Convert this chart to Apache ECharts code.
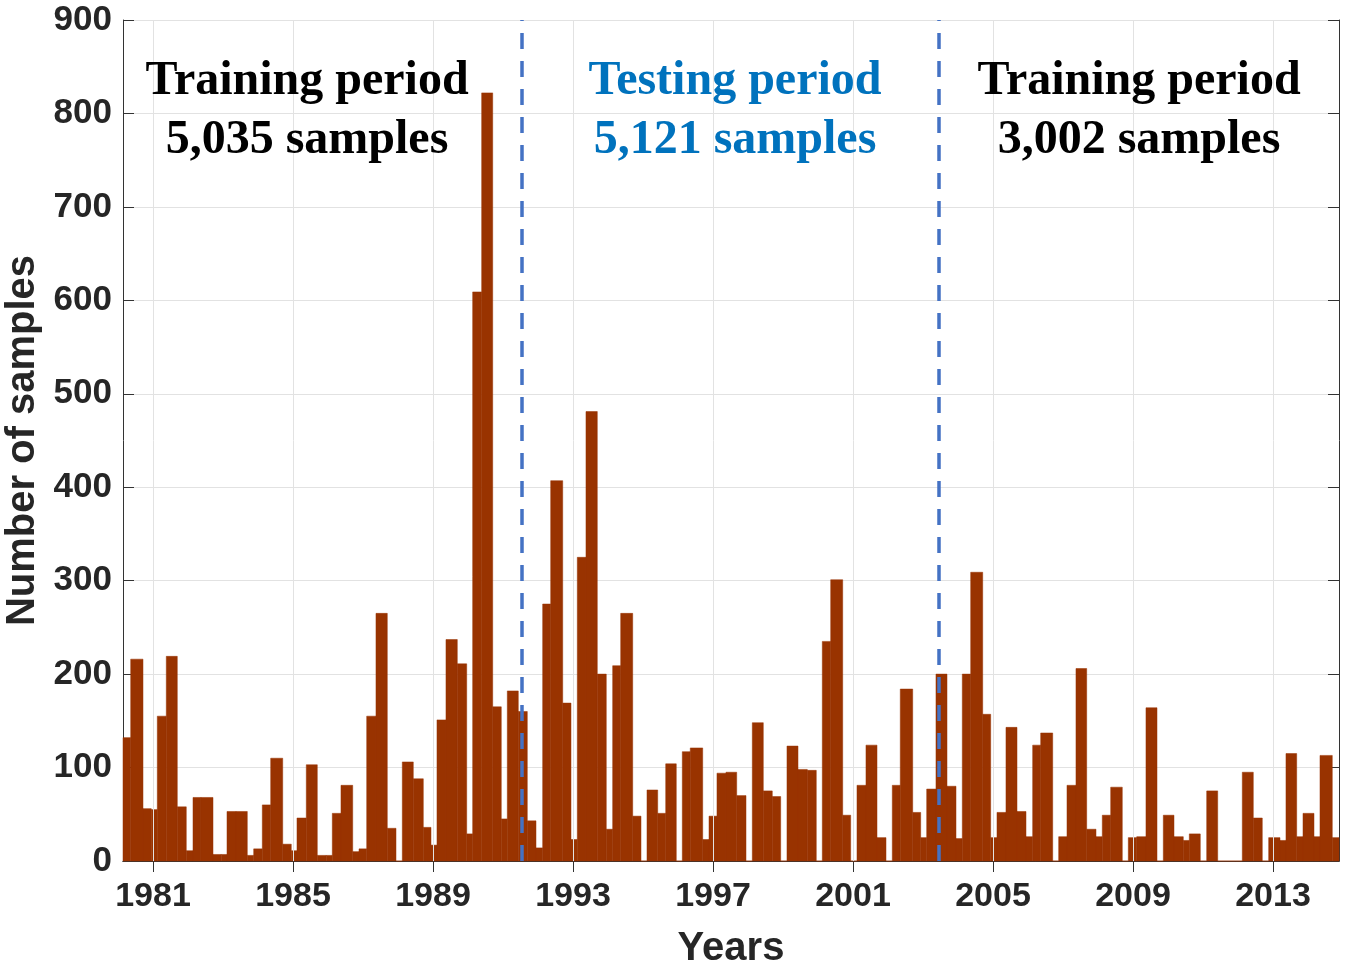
<!DOCTYPE html>
<html>
<head>
<meta charset="utf-8">
<script src="https://cdn.jsdelivr.net/npm/echarts@6/dist/echarts.min.js"></script>
<style>
html,body{margin:0;padding:0;background:#ffffff;}
#chart{width:1351px;height:975px;}
</style>
</head>
<body>
<div id="chart"></div>
<script>
// Bin edges (decimal years) of each bar; bar i spans binEdges[i] .. binEdges[i+1]
const binEdges = [
  1980.12, 1980.363, 1980.714, 1980.951, 1981.123, 1981.38, 1981.694, 1981.951, 1982.143, 1982.37,
  1982.714, 1982.95, 1983.114, 1983.371, 1983.694, 1983.877, 1984.123, 1984.363, 1984.706, 1984.951,
  1985.114, 1985.38, 1985.694, 1985.951, 1986.123, 1986.371, 1986.706, 1986.886, 1987.106, 1987.371,
  1987.694, 1987.943, 1988.123, 1988.437, 1988.723, 1988.943, 1989.114, 1989.371, 1989.694, 1989.963,
  1990.134, 1990.391, 1990.706, 1990.951, 1991.123, 1991.437, 1991.694, 1991.943, 1992.134, 1992.363,
  1992.706, 1992.943, 1993.123, 1993.371, 1993.694, 1993.951, 1994.134, 1994.363, 1994.706, 1994.943,
  1995.114, 1995.42, 1995.649, 1995.951, 1996.123, 1996.351, 1996.706, 1996.886, 1997.114, 1997.371,
  1997.677, 1997.943, 1998.123, 1998.437, 1998.694, 1998.934, 1999.114, 1999.429, 1999.694, 1999.951,
  2000.123, 2000.363, 2000.706, 2000.934, 2001.114, 2001.371, 2001.686, 2001.943, 2002.123, 2002.351,
  2002.706, 2002.934, 2003.106, 2003.371, 2003.686, 2003.943, 2004.123, 2004.363, 2004.706, 2004.934,
  2005.114, 2005.371, 2005.686, 2005.943, 2006.134, 2006.363, 2006.706, 2006.877, 2007.114, 2007.371,
  2007.677, 2007.943, 2008.123, 2008.363, 2008.694, 2008.866, 2009.106, 2009.371, 2009.686, 2009.866,
  2010.171, 2010.437, 2010.609, 2010.923, 2011.106, 2011.42, 2011.686, 2011.943, 2012.123, 2012.437,
  2012.694, 2012.877, 2013.2, 2013.371, 2013.677, 2013.857, 2014.171, 2014.343, 2014.694, 2014.95
];

// Number of samples in each bin
const counts = [
  132, 216, 56, 55, 155, 219, 58, 11, 68, 68,
  7, 7, 53, 53, 6, 13, 60, 110, 18, 11,
  46, 103, 6, 6, 51, 81, 10, 13, 155, 265,
  35, 0, 106, 88, 36, 17, 151, 237, 211, 29,
  609, 822, 165, 45, 182, 160, 43, 14, 275, 407,
  169, 23, 325, 481, 200, 34, 209, 265, 48, 0,
  76, 51, 104, 0, 117, 121, 23, 48, 94, 95,
  70, 0, 148, 75, 69, 0, 123, 98, 97, 0,
  235, 301, 49, 0, 81, 124, 25, 0, 81, 184,
  52, 25, 77, 200, 80, 24, 200, 309, 157, 25,
  52, 143, 53, 26, 124, 137, 0, 26, 81, 206,
  34, 26, 49, 79, 0, 25, 26, 164, 0, 49,
  26, 22, 29, 0, 75, 0, 0, 0, 95, 46,
  0, 25, 22, 115, 26, 51, 26, 113, 25
];

const yearTicks = [1981, 1985, 1989, 1993, 1997, 2001, 2005, 2009, 2013];
const xRange = [1980.143, 2014.886];
const yRange = [0, 900];
const yStep = 100;
const periodBounds = [1991.543, 2003.457];

const periodTitles = ['Training period', 'Testing period', 'Training period'];
const periodSamples = ['5,035 samples', '5,121 samples', '3,002 samples'];
const periodColors = ['#000000', '#0072BD', '#000000'];
const periodCenterX = [307, 735, 1139];

const barColor = '#993300';
const axisColor = '#333333';
const labelColor = '#262626';
const gridColor = '#e2e2e2';

const chart = echarts.init(document.getElementById('chart'), null, {renderer: 'canvas'});

const barData = counts.map((c, i) => [binEdges[i], binEdges[i + 1], c]);

const tickFont = {fontFamily: 'Liberation Sans', fontWeight: 'bold', fontSize: 34, color: labelColor};
const titleFont = {fontFamily: 'Liberation Sans', fontWeight: 'bold', fontSize: 40, color: labelColor};

const graphicTexts = [];
for (let i = 0; i < periodTitles.length; i++) {
  graphicTexts.push({
    type: 'text', z: 100,
    style: {text: periodTitles[i], x: periodCenterX[i], y: 82, align: 'center', verticalAlign: 'middle',
      font: 'bold 48px "Liberation Serif"', fill: periodColors[i]}
  });
  graphicTexts.push({
    type: 'text', z: 100,
    style: {text: periodSamples[i], x: periodCenterX[i], y: 141, align: 'center', verticalAlign: 'middle',
      font: 'bold 48px "Liberation Serif"', fill: periodColors[i]}
  });
}

const option = {
  backgroundColor: '#ffffff',
  animation: false,
  grid: {left: 123, right: 12, top: 20, bottom: 114, containLabel: false, outerBoundsMode: 'none'},
  xAxis: [
    {
      type: 'value', position: 'bottom', min: xRange[0], max: xRange[1],
      name: 'Years', nameLocation: 'middle', nameGap: 68,
      nameTextStyle: titleFont,
      axisLine: {show: true, lineStyle: {color: axisColor, width: 1}},
      axisTick: {show: true, inside: true, length: 11, customValues: yearTicks, lineStyle: {color: axisColor}},
      axisLabel: Object.assign({show: true, margin: 19, customValues: yearTicks,
        formatter: v => String(Math.round(v))}, tickFont),
      splitLine: {show: false}
    },
    {
      type: 'value', position: 'top', min: xRange[0], max: xRange[1],
      axisLine: {show: true, lineStyle: {color: axisColor, width: 1}},
      axisTick: {show: true, inside: true, length: 11, customValues: yearTicks, lineStyle: {color: axisColor}},
      axisLabel: {show: false},
      splitLine: {show: false}
    }
  ],
  yAxis: [
    {
      type: 'value', position: 'left', min: yRange[0], max: yRange[1], interval: yStep,
      name: 'Number of samples', nameLocation: 'middle', nameGap: 77, nameRotate: 90,
      nameTextStyle: titleFont,
      axisLine: {show: true, lineStyle: {color: axisColor, width: 1}},
      axisTick: {show: true, inside: true, length: 11, lineStyle: {color: axisColor}},
      axisLabel: Object.assign({show: true, margin: 11}, tickFont, {fontSize: 35}),
      splitLine: {show: true, lineStyle: {color: gridColor, width: 1}}
    },
    {
      type: 'value', position: 'right', min: yRange[0], max: yRange[1], interval: yStep,
      axisLine: {show: true, lineStyle: {color: axisColor, width: 1}},
      axisTick: {show: true, inside: true, length: 11, lineStyle: {color: axisColor}},
      axisLabel: {show: false},
      splitLine: {show: false}
    }
  ],
  series: [
    {
      name: 'vgrid', type: 'line', data: [], z: 1, silent: true,
      markLine: {
        silent: true, symbol: ['none', 'none'], label: {show: false},
        lineStyle: {color: gridColor, width: 1, type: 'solid'},
        data: yearTicks.map(t => ({xAxis: t}))
      }
    },
    {
      name: 'samples', type: 'custom', z: 2,
      encode: {x: [0, 1], y: 2},
      data: barData,
      renderItem: function (params, api) {
        const p0 = api.coord([api.value(0), api.value(2)]);
        const p1 = api.coord([api.value(1), 0]);
        const rect = echarts.graphic.clipRectByRect(
          {x: p0[0], y: p0[1], width: p1[0] - p0[0], height: p1[1] - p0[1]},
          {x: params.coordSys.x, y: params.coordSys.y, width: params.coordSys.width, height: params.coordSys.height}
        );
        if (!rect) return null;
        return {type: 'rect', shape: rect, style: {fill: barColor, stroke: barColor, lineWidth: 0.5}};
      }
    },
    {
      name: 'bounds', type: 'line', data: [], z: 5, silent: true,
      markLine: {
        silent: true, symbol: ['none', 'none'], label: {show: false},
        lineStyle: {color: '#4472C4', width: 3.5, type: [16, 12]},
        data: periodBounds.map(b => ({xAxis: b}))
      }
    }
  ],
  graphic: graphicTexts
};

chart.setOption(option);
</script>
</body>
</html>
